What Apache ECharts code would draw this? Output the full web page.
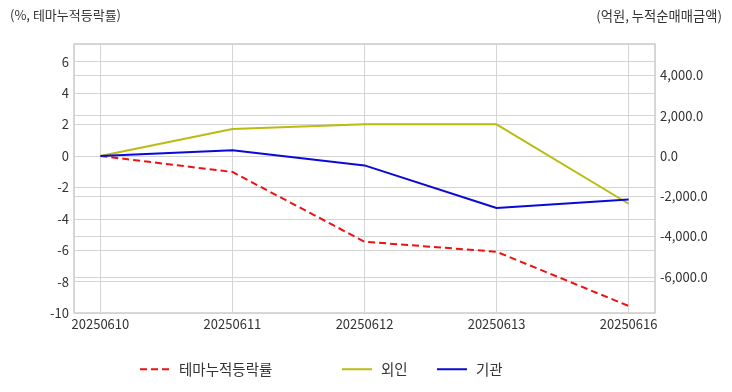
<!DOCTYPE html>
<html>
<head>
<meta charset="utf-8">
<script src="https://cdn.jsdelivr.net/npm/echarts@6/dist/echarts.min.js"></script>
<style>html,body{margin:0;padding:0;background:#fff;}#c{width:732px;height:392px;}</style>
</head>
<body>
<div id="c"></div>
<script>
var categories = ['20250610', '20250611', '20250612', '20250613', '20250616'];
var themeRate = [0, -1.02, -5.46, -6.10, -9.55];
var foreign = [0, 1343, 1572, 1572, -2373];
var institution = [0, 279, -468, -2587, -2159];
var seriesNames = ['테마누적등락률', '외인', '기관'];
var leftTitle = '(%, 테마누적등락률)';
var rightTitle = '(억원, 누적순매매금액)';

function pairs(arr) { return arr.map(function (v, i) { return [i, v]; }); }
var FONT = '"Noto Sans CJK KR", "Noto Sans", sans-serif';
var legendLefts = [134, 336, 431];
function makeLegend(name, left) {
  return {
    left: left, top: 357, itemWidth: 30, itemHeight: 14,
    itemStyle: {opacity: 0},
    textStyle: {fontSize: 14.5, color: '#333', fontFamily: FONT, padding: [0, 0, 0, 4]},
    data: [name]
  };
}
var chart = echarts.init(document.getElementById('c'), null, {renderer: 'canvas'});
chart.setOption({
  animation: false,
  backgroundColor: '#fff',
  textStyle: {fontFamily: FONT},
  title: [
    {text: leftTitle, left: 5, top: 4, textStyle: {fontSize: 13, fontWeight: 'normal', color: '#333', fontFamily: FONT}},
    {text: rightTitle, right: 5, top: 4, textStyle: {fontSize: 13.3, fontWeight: 'normal', color: '#333', fontFamily: FONT}}
  ],
  legend: seriesNames.map(function (n, i) { return makeLegend(n, legendLefts[i]); }),
  grid: {left: 74, right: 77, top: 44, bottom: 79, show: true, borderColor: '#cccccc', borderWidth: 1.5},
  xAxis: {
    type: 'value', min: -0.2, max: 4.2, splitNumber: 5,
    axisLine: {show: false}, axisTick: {show: false},
    splitLine: {show: true, lineStyle: {color: '#d4d4d4'}},
    axisLabel: {
      showMinLabel: false, showMaxLabel: false, margin: 5,
      color: '#333', fontSize: 13, fontFamily: FONT,
      formatter: function (v) { var i = Math.round(v); return Math.abs(v - i) < 1e-6 && categories[i] ? categories[i] : ''; }
    }
  },
  yAxis: [
    {
      type: 'value', min: -10, max: 7.13, splitNumber: 8, position: 'left',
      axisLine: {show: false}, axisTick: {show: false},
      splitLine: {show: true, lineStyle: {color: '#d4d4d4'}},
      axisLabel: {showMaxLabel: false, margin: 5, color: '#333', fontSize: 13, fontFamily: FONT,
        formatter: function (v) { return Math.abs(v % 2) < 1e-6 ? String(v) : ''; }}
    },
    {
      type: 'value', min: -7800, max: 5561, splitNumber: 7, position: 'right',
      axisLine: {show: false}, axisTick: {show: false},
      splitLine: {show: true, lineStyle: {color: '#d4d4d4'}},
      axisLabel: {showMinLabel: false, showMaxLabel: false, margin: 5, color: '#333', fontSize: 13, fontFamily: FONT,
        formatter: function (v) {
          if (Math.abs(v % 2000) > 1e-6) return '';
          return v.toLocaleString('en-US', {minimumFractionDigits: 1, maximumFractionDigits: 1});
        }}
    }
  ],
  series: [
    {name: seriesNames[0], type: 'line', yAxisIndex: 0, data: pairs(themeRate), symbol: 'none',
      lineStyle: {color: '#ee1111', width: 2, type: [7, 4]}, itemStyle: {color: '#ee1111'}},
    {name: seriesNames[1], type: 'line', yAxisIndex: 1, data: pairs(foreign), symbol: 'none',
      lineStyle: {color: '#bbbb11', width: 2}, itemStyle: {color: '#bbbb11'}},
    {name: seriesNames[2], type: 'line', yAxisIndex: 1, data: pairs(institution), symbol: 'none',
      lineStyle: {color: '#0a0ad8', width: 2}, itemStyle: {color: '#0a0ad8'}}
  ]
});
</script>
</body>
</html>
